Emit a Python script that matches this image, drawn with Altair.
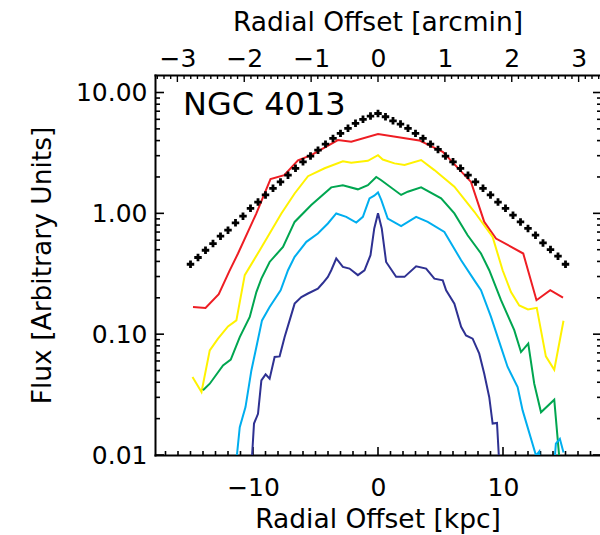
import altair as alt
import pandas as pd

FONT = "DejaVu Sans"
W, H = 445, 380
X_DOMAIN = [-17.84, 17.76]
KPC_PER_ARCMIN = 5.35
AM_DOMAIN = [X_DOMAIN[0] / KPC_PER_ARCMIN, X_DOMAIN[1] / KPC_PER_ARCMIN]
Y_DOMAIN = [0.01, 13.96]

# ---- data ----
plus_x = [-15.0, -14.4, -13.8, -13.2, -12.6, -12.0, -11.4, -10.8, -10.2, -9.6,
          -9.0, -8.4, -7.8, -7.2, -6.6, -6.0, -5.4, -4.8, -4.2, -3.6,
          -3.0, -2.4, -1.8, -1.2, -0.6, 0.0, 0.6, 1.2, 1.8, 2.4,
          3.0, 3.6, 4.2, 4.8, 5.4, 6.0, 6.6, 7.2, 7.8, 8.4,
          9.0, 9.6, 10.2, 10.8, 11.4, 12.0, 12.6, 13.2, 13.8, 14.4, 15.0]
plus_flux = [0.379, 0.431, 0.495, 0.562, 0.647, 0.726, 0.834, 0.948, 1.10, 1.24,
             1.42, 1.61, 1.82, 2.07, 2.36, 2.67, 2.98, 3.33, 3.74, 4.17,
             4.59, 5.05, 5.56, 6.00, 6.38, 6.70, 6.30, 5.83, 5.48, 5.05,
             4.59, 4.17, 3.74, 3.38, 2.98, 2.67, 2.36, 2.07, 1.82, 1.61,
             1.42, 1.24, 1.10, 0.966, 0.849, 0.750, 0.659, 0.569, 0.501, 0.442, 0.379]

red_x = [-14.8, -13.8, -12.74, -11.9, -11.2, -9.73, -8.6, -7.5, -6.4, -5.34,
         -3.21, -2.14, 0.0, 3.3, 5.18, 7.44, 8.5, 9.44, 11.62, 12.68, 13.78, 14.8]
red_flux = [0.168, 0.165, 0.214, 0.331, 0.465, 1.00, 1.92, 2.07, 2.75, 3.03,
            4.04, 3.91, 4.53, 4.01, 3.23, 1.82, 0.849, 0.619, 0.465, 0.191, 0.231, 0.201]

yellow_x = [-14.84, -14.12, -13.46, -12.8, -12.0, -11.33, -10.66, -9.46, -7.73, -6.67,
            -5.6, -4.27, -2.81, -2.14, -0.81, 0.0, 0.38, 1.32, 2.12, 3.45,
            4.51, 6.11, 7.71, 9.17, 9.97, 10.64, 11.3, 12.0, 12.7, 13.43, 14.1, 14.84]
yellow_flux = [0.0442, 0.0332, 0.0735, 0.0918, 0.116, 0.130, 0.308, 0.495, 0.998, 1.46,
               2.03, 2.36, 2.70, 2.62, 2.72, 3.03, 2.79, 2.59, 2.51, 2.76,
               2.28, 1.66, 1.03, 0.638, 0.338, 0.223, 0.173, 0.160, 0.165, 0.0655, 0.0508, 0.129]

green_x = [-14.0, -13.46, -12.4, -11.78, -11.06, -10.26, -9.73, -9.33, -8.67, -7.6,
           -6.67, -5.34, -3.74, -2.81, -1.61, -0.81, -0.14, 0.26, 1.85, 2.38,
           3.45, 5.05, 6.11, 7.17, 8.24, 8.9, 9.84, 10.9, 11.44, 12.02,
           12.5, 13.04, 14.1, 14.5, 14.8]
green_flux = [0.0343, 0.0389, 0.0552, 0.0615, 0.0946, 0.139, 0.223, 0.288, 0.396, 0.527,
              0.849, 1.17, 1.64, 1.71, 1.58, 1.71, 2.00, 1.88, 1.42, 1.51,
              1.64, 1.33, 0.998, 0.659, 0.465, 0.338, 0.191, 0.108, 0.0711, 0.0836,
              0.0389, 0.0226, 0.0287, 0.0096, 0.006]

cyan_x = [-11.5, -11.06, -10.6, -10.13, -9.73, -9.28, -8.67, -7.79, -7.2, -6.67,
          -5.73, -4.81, -4.01, -3.34, -2.54, -1.74, -1.21, -0.68, -0.3, 0.0,
          0.26, 0.78, 1.85, 3.05, 3.98, 5.31, 6.65, 7.71, 8.24, 9.04,
          9.84, 10.37, 11.17, 11.57, 12.64, 12.9, 13.0, 14.0, 14.23, 14.55, 14.84]
cyan_flux = [0.006, 0.0170, 0.0249, 0.0501, 0.0782, 0.130, 0.168, 0.231, 0.338, 0.436,
             0.581, 0.681, 0.824, 0.998, 0.935, 0.839, 0.935, 1.33, 1.40, 1.49,
             1.29, 0.906, 0.783, 0.935, 0.849, 0.702, 0.409, 0.279, 0.231, 0.139,
             0.0782, 0.0535, 0.0365, 0.0234, 0.0099, 0.0107, 0.006, 0.006, 0.0124, 0.0136, 0.0105]

navy_x = [-10.2, -9.92, -9.6, -9.33, -8.99, -8.67, -8.27, -7.87, -7.47, -7.07,
          -6.67, -6.13, -5.6, -4.81, -4.41, -4.01, -3.74, -3.34, -2.81, -2.28,
          -1.61, -1.08, -0.6, -0.3, 0.0, 0.3, 0.65, 1.45, 2.12, 3.05,
          3.85, 4.51, 5.18, 5.45, 6.11, 6.65, 7.04, 7.57, 8.1, 8.5,
          8.9, 9.17, 9.52, 9.78]
navy_flux = [0.006, 0.0182, 0.0219, 0.0414, 0.0465, 0.0428, 0.0647, 0.0655, 0.0946, 0.130,
             0.179, 0.203, 0.217, 0.238, 0.265, 0.298, 0.338, 0.423, 0.360, 0.349,
             0.308, 0.338, 0.45, 0.75, 1.00, 0.75, 0.396, 0.298, 0.298, 0.365,
             0.349, 0.288, 0.279, 0.231, 0.179, 0.115, 0.0977, 0.0918, 0.0690, 0.0471,
             0.0301, 0.0182, 0.0184, 0.006]

series_names = ["red", "yellow", "green", "cyan", "navy"]
series_colors = ["#EE1D23", "#FFF200", "#00A650", "#00AEEF", "#2E3192"]
series_data = [(red_x, red_flux), (yellow_x, yellow_flux), (green_x, green_flux),
               (cyan_x, cyan_flux), (navy_x, navy_flux)]

# tick positions
y_major = [0.01, 0.1, 1.0, 10.0]
y_minor = [k * d for d in [0.01, 0.1, 1.0] for k in range(2, 10)]
x_major = [-10, 0, 10]
x_minor = [v for v in range(-17, 18) if v not in x_major]
am_major = [-3, -2, -1, 0, 1, 2, 3]
am_minor = [round(v / 10, 1) for v in range(-33, 34) if v % 10 != 0]

rows = []
for name, (xs, ys) in zip(series_names, series_data):
    for i, (a, b) in enumerate(zip(xs, ys)):
        rows.append({"series": name, "x": a, "flux": b, "i": i})
lines_df = pd.DataFrame(rows)
plus_df = pd.DataFrame({"x": plus_x, "flux": plus_flux})

xscale = alt.Scale(domain=X_DOMAIN, nice=False, zero=False)
yscale = alt.Scale(type="log", domain=Y_DOMAIN, nice=False)
amscale = alt.Scale(domain=AM_DOMAIN, nice=False, zero=False)

x_axis = alt.Axis(orient="bottom", values=x_major, format="d", ticks=False, tickSize=0,
                  labelPadding=40, labelBaseline="alphabetic",
                  title="Radial Offset [kpc]", titleY=72, titleBaseline="alphabetic")
y_axis = alt.Axis(orient="left", values=y_major, format=".2f", ticks=False, tickSize=0,
                  labelPadding=8, title="Flux [Arbitrary Units]", titleX=-105,
                  titleBaseline="alphabetic")
am_axis = alt.Axis(orient="top", values=am_major, format="d", ticks=False, tickSize=0,
                   labelPadding=9, labelBaseline="alphabetic",
                   title="Radial Offset [arcmin]", titleY=-45, titleBaseline="alphabetic")

lines = alt.Chart(lines_df).mark_line(clip=True, strokeWidth=2).encode(
    x=alt.X("x:Q", scale=xscale, axis=x_axis),
    y=alt.Y("flux:Q", scale=yscale, axis=y_axis),
    color=alt.Color("series:N", scale=alt.Scale(domain=series_names, range=series_colors), legend=None),
    order="i:Q",
)

plus = alt.Chart(plus_df).mark_point(
    shape="M-1,0L1,0M0,-1L0,1", filled=False, stroke="black", strokeWidth=2.8, size=56, opacity=1
).encode(
    x=alt.X("x:Q", scale=xscale, axis=x_axis),
    y=alt.Y("flux:Q", scale=yscale, axis=y_axis),
)

ymaj_df = pd.DataFrame({"flux": y_major})
ymin_df = pd.DataFrame({"flux": y_minor})
xmaj_df = pd.DataFrame({"x": x_major})
xmin_df = pd.DataFrame({"x": x_minor})

def yticks(df, x1, x2):
    return alt.Chart(df).mark_rule(color="black", strokeWidth=1.6).encode(
        y=alt.Y("flux:Q", scale=yscale, axis=y_axis), x=alt.value(x1), x2=alt.value(x2))

def xticks(df, length):
    return alt.Chart(df).mark_rule(color="black", strokeWidth=1.6).encode(
        x=alt.X("x:Q", scale=xscale, axis=x_axis), y=alt.value(H), y2=alt.value(H - length))

label = alt.Chart(pd.DataFrame({"t": ["NGC 4013"]})).mark_text(
    align="left", baseline="alphabetic", font=FONT, fontSize=32, color="black"
).encode(x=alt.value(28), y=alt.value(40), text="t:N")

main = alt.layer(
    yticks(ymaj_df, 0, 9), yticks(ymin_df, 0, 5),
    yticks(ymaj_df, 438, 447), yticks(ymin_df, 442, 447),
    xticks(xmaj_df, 8), xticks(xmin_df, 4),
    lines, plus, label,
)

ammaj_df = pd.DataFrame({"am": am_major})
ammin_df = pd.DataFrame({"am": am_minor})

def amticks(df, length):
    return alt.Chart(df).mark_rule(color="black", strokeWidth=1.4).encode(
        x=alt.X("am:Q", scale=amscale, axis=am_axis), y=alt.value(0), y2=alt.value(length))

top = alt.layer(amticks(ammaj_df, 7), amticks(ammin_df, 4))

chart = alt.layer(main, top).resolve_scale(x="independent").properties(
    width=W, height=H,
    padding={"left": 155, "top": 75, "right": 0, "bottom": 80},
    autosize=alt.AutoSizeParams(type="none"),
).configure_view(stroke=None).configure_axis(
    labelFont=FONT, titleFont=FONT, labelFontSize=25, titleFontSize=26.5,
    titleFontWeight="normal", labelColor="black", titleColor="black",
    domainColor="black", domainWidth=2, domainCap="square", grid=False, labelOverlap=False,
    labelFlush=False,
)

chart.save("out.html", embed_options={"renderer": "svg", "actions": False})
